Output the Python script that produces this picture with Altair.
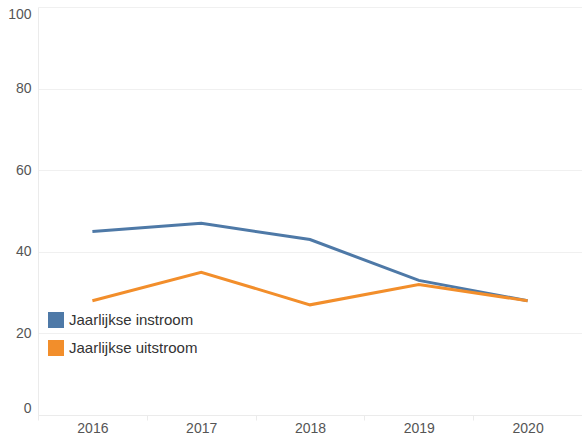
import altair as alt
import pandas as pd

years = ["2016", "2017", "2018", "2019", "2020"]
instroom = [45, 47, 43, 33, 28]
uitstroom = [28, 35, 27, 32, 28]
series = ["Jaarlijkse instroom", "Jaarlijkse uitstroom"]
colors = ["#4e79a7", "#f28e2b"]

rows = []
for name, vals in zip(series, [instroom, uitstroom]):
    for y, v in zip(years, vals):
        rows.append({"jaar": y, "waarde": v, "reeks": name})
df = pd.DataFrame(rows)

font = "Liberation Sans"

chart = (
    alt.Chart(df)
    .mark_line(strokeWidth=3)
    .encode(
        x=alt.X(
            "jaar:O",
            scale=alt.Scale(type="band", paddingInner=0, paddingOuter=0),
            bandPosition=0.5,
            title=None,
            axis=alt.Axis(
                labelAngle=0,
                tickBand="extent",
                grid=False,
                domainColor="#ebebeb",
                tickColor="#ebebeb",
                tickSize=5,
                labelPadding=1,
                labelColor="#555555",
                labelFontSize=14,
                labelFont=font,
            ),
        ),
        y=alt.Y(
            "waarde:Q",
            scale=alt.Scale(domain=[0, 100], nice=False),
            title=None,
            axis=alt.Axis(
                values=[0, 20, 40, 60, 80, 100],
                ticks=False,
                labelPadding=7,
                labelFlush=True,
                gridColor="#f0f0f0",
                domainColor="#ebebeb",
                labelColor="#555555",
                labelFontSize=14,
                labelFont=font,
            ),
        ),
        color=alt.Color(
            "reeks:N",
            scale=alt.Scale(domain=series, range=colors),
            # a small square with a thick outline reads as a solid swatch
            legend=alt.Legend(
                title=None,
                orient="none",
                legendX=10,
                legendY=305,
                symbolType="square",
                symbolSize=64,
                symbolStrokeWidth=8,
                labelFontSize=15,
                labelFont=font,
                labelColor="#333333",
                rowPadding=-24,
                labelOffset=5,
            ),
        ),
    )
    .properties(
        width=544,
        height=408,
        autosize=alt.AutoSizeParams(type="none"),
        padding={"left": 38, "top": 7, "right": 0, "bottom": 19},
    )
    .configure_view(stroke=None)
)

chart.save("out.html", embed_options={"renderer": "svg", "actions": False})
